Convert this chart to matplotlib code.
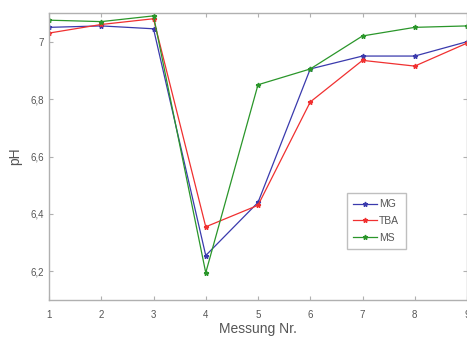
import matplotlib
matplotlib.use("Agg")
import matplotlib.pyplot as plt
import matplotlib.ticker as ticker

plt.rcParams["font.family"] = ["Liberation Sans", "DejaVu Sans"]

# ── Daten ─────────────────────────────────────────────────
messung = [1, 2, 3, 4, 5, 6, 7, 8, 9]
ph_mg = [7.05, 7.055, 7.045, 6.255, 6.44, 6.905, 6.95, 6.95, 7.0]
ph_tba = [7.03, 7.06, 7.08, 6.355, 6.43, 6.79, 6.935, 6.915, 6.995]
ph_ms = [7.075, 7.07, 7.09, 6.195, 6.85, 6.905, 7.02, 7.05, 7.055]

y_ticks = [6.2, 6.4, 6.6, 6.8, 7.0]

_GRAY = "#b0b0b0"
_TEXT = "#555555"

fig = plt.figure(figsize=(4.67, 3.43), dpi=100)
ax = fig.add_axes([49 / 467, 43 / 343, 1 - 49 / 467, 287 / 343])

style = dict(linestyle="-", marker="*", linewidth=0.9, markersize=3.5)
ax.plot(messung, ph_mg, color="#3a3aad", label="MG", **style)
ax.plot(messung, ph_tba, color="#f03030", label="TBA", **style)
ax.plot(messung, ph_ms, color="#2a962a", label="MS", **style)

ax.set_xlim(1, 9)
ax.set_ylim(6.1, 7.1)
ax.set_xticks(messung)
ax.set_yticks(y_ticks)
ax.yaxis.set_major_formatter(
    ticker.FuncFormatter(lambda v, p: f"{v:g}".replace(".", ","))
)

for s in ax.spines.values():
    s.set_color(_GRAY)
    s.set_linewidth(1.0)

ax.tick_params(direction="in", length=3, color=_GRAY, labelcolor=_TEXT,
               labelsize=7, top=True, right=True)
ax.tick_params(axis="x", pad=7)
ax.set_xlabel("Messung Nr.", fontsize=10, color=_TEXT, labelpad=2)
ax.set_ylabel("pH", fontsize=10, color=_TEXT, labelpad=6)

leg = ax.legend(loc="upper left", bbox_to_anchor=(347 / 467, 1 - 193 / 343),
                bbox_transform=fig.transFigure,
                fontsize=7.5, frameon=True, fancybox=False, handlelength=2.3,
                borderpad=0.6, labelspacing=0.65, handletextpad=0.2,
                borderaxespad=0)
leg.get_frame().set_edgecolor(_GRAY)
leg.get_frame().set_linewidth(1.0)
for t in leg.get_texts():
    t.set_color(_TEXT)

fig.patch.set_facecolor("white")
fig.savefig("out.png", dpi=100, facecolor="white")
